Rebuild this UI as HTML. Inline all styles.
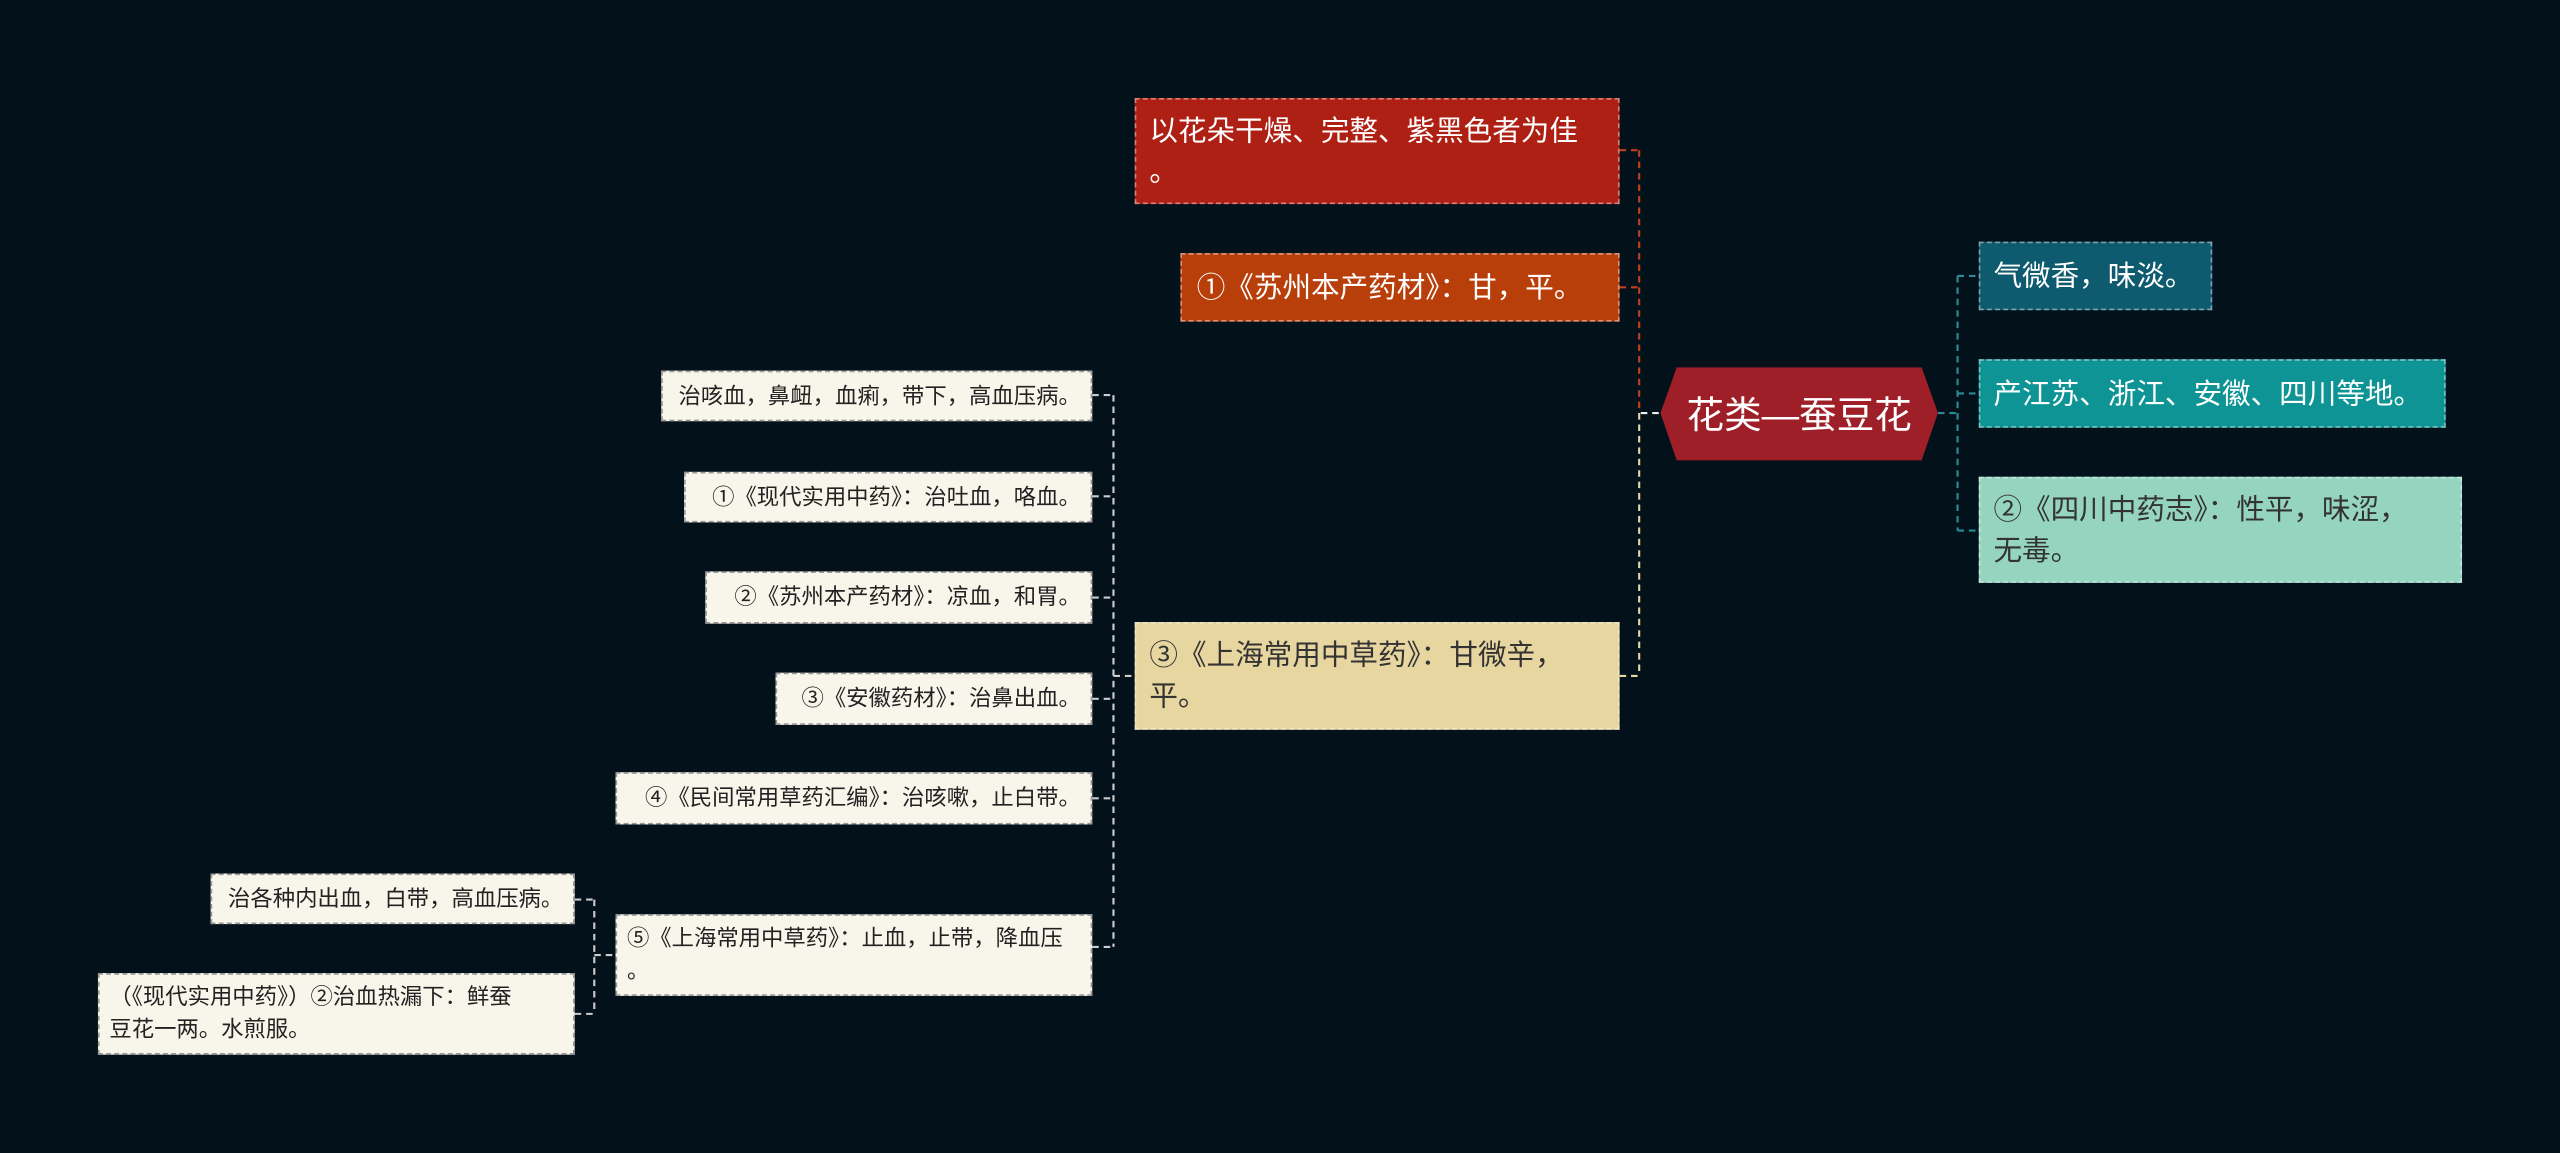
<!DOCTYPE html>
<html><head><meta charset="utf-8"><style>
html,body{margin:0;padding:0;background:#03111a;width:2560px;height:1152px;overflow:hidden}
#c{position:absolute;left:0;top:0;width:1568px;height:706px;transform:scale(1.63265);transform-origin:0 0;font-family:"Liberation Sans","Noto Sans CJK SC",sans-serif}
.n{position:absolute;box-sizing:border-box;border:1px dashed rgba(255,255,255,.45);padding:0 8px;display:flex;align-items:center;white-space:nowrap}
.s{background:#f8f6ea;color:#222;font-size:13.7px;line-height:20px;border-color:#999;justify-content:flex-end;padding:0 6px}
.b{font-size:17.5px;line-height:25px;color:#fff}
svg{position:absolute;left:0;top:0}
</style></head><body><div id="c">
<svg width="1568" height="706" fill="none" stroke-width="1.3" stroke-dasharray="4 3">
<path d="M1005 253H1017" stroke="#eee"/>
<path d="M1004 92V253 M992 92H1004 M992 176H1004" stroke="#c0401c"/>
<path d="M1004 253V414 M992 414H1004" stroke="#e8d6a0"/>
<path d="M1187 253H1199 M1199 169V325 M1199 169H1212 M1199 241H1212 M1199 325H1212" stroke="#2a8a96"/>
<path d="M682 242V580 M669 242H682 M669 304H682 M669 366H682 M669 428H682 M669 489H682 M669 580H682 M682 414H695" stroke="#ccc"/>
<path d="M364 551V621 M352 551H364 M352 621H364 M364 585H377" stroke="#ccc"/>
</svg>
<svg width="1568" height="706"><polygon points="1027,225 1177,225 1187,253 1177,282 1027,282 1017,253" fill="#9e1f28"/>
<text x="1102" y="262" text-anchor="middle" fill="#fff" font-size="23" font-family="Liberation Sans,Noto Sans CJK SC,sans-serif">花类—蚕豆花</text></svg>
<div class="n b" style="left:695px;top:60px;width:297px;height:65px;background:#ae2014">以花朵干燥、完整、紫黑色者为佳<br>。</div>
<div class="n b" style="left:723px;top:155px;width:269px;height:42px;background:#b83e0a;padding-left:9px">①《苏州本产药材》：甘，平。</div>
<div class="n b" style="left:695px;top:381px;width:297px;height:66px;background:#e8d6a0;color:#333">③《上海常用中草药》：甘微辛，<br>平。</div>
<div class="n b" style="left:1212px;top:148px;width:143px;height:42px;background:#0e5a6e">气微香，味淡。</div>
<div class="n b" style="left:1212px;top:220px;width:286px;height:42px;background:#0e9494">产江苏、浙江、安徽、四川等地。</div>
<div class="n b" style="left:1212px;top:292px;width:296px;height:65px;background:#95d5c0;color:#333">②《四川中药志》：性平，味涩，<br>无毒。</div>
<div class="n s" style="left:405px;top:227px;width:264px;height:31px">治咳血，鼻衄，血痢，带下，高血压病。</div>
<div class="n s" style="left:419px;top:289px;width:250px;height:31px">①《现代实用中药》：治吐血，咯血。</div>
<div class="n s" style="left:432px;top:350px;width:237px;height:32px">②《苏州本产药材》：凉血，和胃。</div>
<div class="n s" style="left:475px;top:412px;width:194px;height:32px">③《安徽药材》：治鼻出血。</div>
<div class="n s" style="left:377px;top:473px;width:292px;height:32px">④《民间常用草药汇编》：治咳嗽，止白带。</div>
<div class="n s" style="left:377px;top:560px;width:292px;height:50px;justify-content:flex-start">⑤《上海常用中草药》：止血，止带，降血压<br>。</div>
<div class="n s" style="left:129px;top:535px;width:223px;height:31px">治各种内出血，白带，高血压病。</div>
<div class="n s" style="left:60px;top:596px;width:292px;height:50px;justify-content:flex-start">（《现代实用中药》）②治血热漏下：鲜蚕<br>豆花一两。水煎服。</div>
</div></body></html>
